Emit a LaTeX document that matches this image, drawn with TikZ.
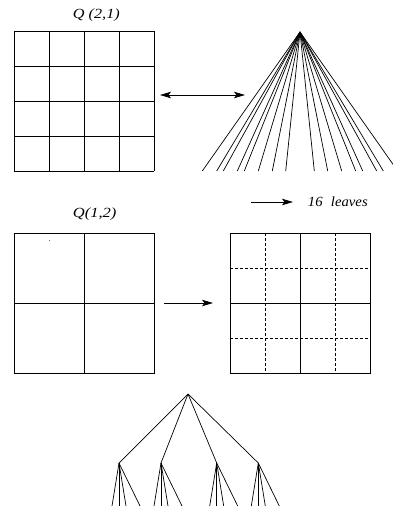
\documentclass[tikz,border=0pt]{standalone}
\usepackage{fontspec}
\setmainfont{Liberation Serif}
\usetikzlibrary{arrows.meta}
\begin{document}
\begin{tikzpicture}[x=1pt,y=-1pt,line width=0.8pt,
  lbl/.style={inner sep=0pt,font=\fontsize{14}{16}\selectfont\itshape,anchor=base west},
  arr/.style={-{Stealth[length=11pt,width=6.5pt,inset=2.5pt]}},
  dashline/.style={dash pattern=on 2.5pt off 2.5pt},
  edge/.style={line width=0.7pt}]
\useasboundingbox (0,0) rectangle (392,508);
% top grid
\foreach \i in {0,...,4}{
  \draw (14+35*\i,31) -- (14+35*\i,171);
  \draw (14,31+35*\i) -- (154,31+35*\i);
}
\node[lbl] (q21) at (72.5,18.5) {\scalebox{1.16}[1]{Q (2,1)}};
% double arrow
\coordinate (da1) at (160,95);
\coordinate (da2) at (245,95);
\draw[{Stealth[length=11pt,width=6.5pt,inset=2.5pt]}-{Stealth[length=11pt,width=6.5pt,inset=2.5pt]}] (da1) -- (da2);
% fan
\coordinate (apex) at (300,32);
\foreach \x in {202.3,216.7,223.3,237.3,244.3,258.3,272.3,285.7,314.3,327.7,341.7,355.7,362.7,376.7,383.3,397.7}{
  \coordinate (fl) at (\x,171);
  \draw[edge] (apex) -- (fl);
}
% 16 leaves
\coordinate (la1) at (251,202);
\coordinate (la2) at (293,202);
\draw[arr] (la1) -- (la2);
\node[lbl] (leaves) at (307.5,206.7) {\scalebox{1.05}[1]{16\hspace{8pt}leaves}};
% Q(1,2) grid
\node[lbl] (q12) at (72.5,217) {\scalebox{1.18}[1]{Q(1,2)}};
\draw (14,233) rectangle (154,373);
\draw (84,233) -- (84,373);
\draw (14,303) -- (154,303);
\fill[black!70] (49.5,240.5) circle (0.5pt);
% arrow
\coordinate (ma1) at (164,303);
\coordinate (ma2) at (213,303);
\draw[arr] (ma1) -- (ma2);
% right grid
\draw (230,233) rectangle (370,373);
\draw (300,233) -- (300,373);
\draw (230,303) -- (370,303);
\draw[dashline] (265,233) -- (265,373);
\draw[dashline] (335,233) -- (335,373);
\draw[dashline] (230,268) -- (370,268);
\draw[dashline] (230,338) -- (370,338);
% bottom tree
\coordinate (root) at (188,394);
\foreach \c in {119,161,216.7,258.3}{
  \coordinate (ch) at (\c,463);
  \draw[edge] (root) -- (ch);
  \foreach \d in {-7,0,7,21}{
    \coordinate (lf) at (\c+\d,506);
    \draw[edge] (ch) -- (lf);
  }
}
\end{tikzpicture}
\end{document}
